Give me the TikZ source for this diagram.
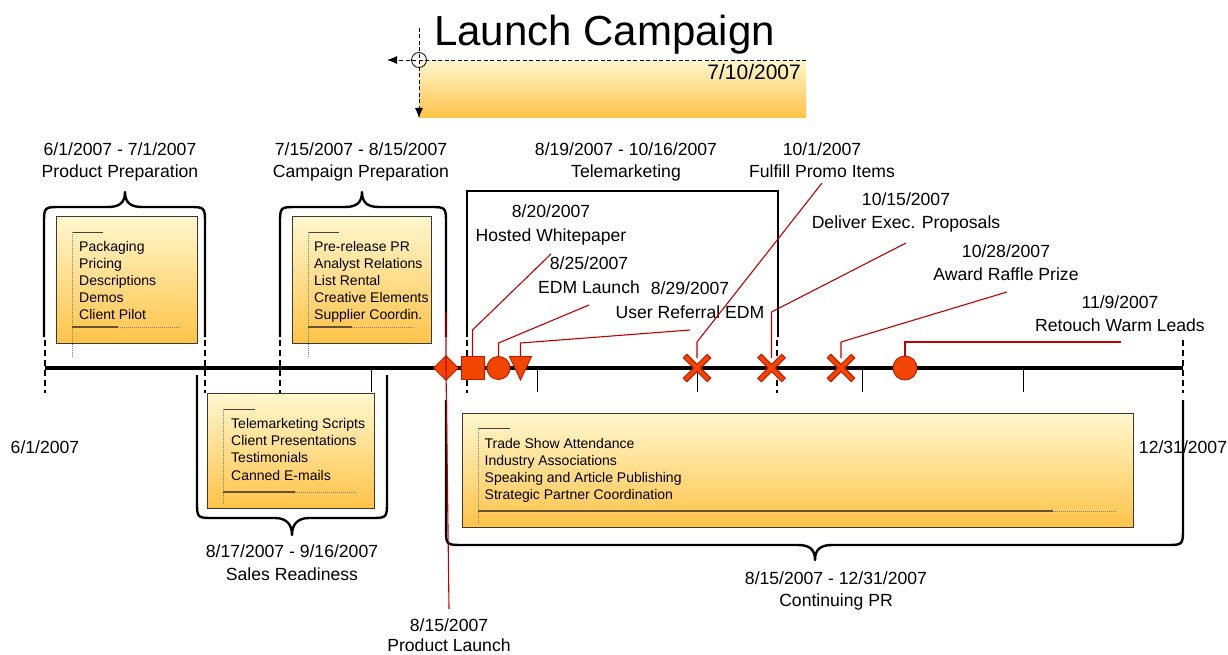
\documentclass[tikz,border=0pt]{standalone}
\usepackage{fontspec}
\setmainfont{Liberation Sans}
\usetikzlibrary{shapes.geometric,shapes.misc,arrows.meta}

\definecolor{mkfill}{RGB}{242,70,0}
\definecolor{mkline}{RGB}{196,24,0}
\definecolor{calloutred}{RGB}{192,0,0}
\definecolor{boxtop}{RGB}{255,247,206}
\definecolor{boxbot}{RGB}{255,195,72}
\definecolor{boxline}{RGB}{60,56,50}
\definecolor{rulebrown}{RGB}{100,82,50}

\begin{document}
\begin{tikzpicture}[x=1pt,y=-1pt,
  bracepath/.style={line width=2.4pt, line join=round},
  phasebox/.style={draw=boxline, line width=0.9pt, top color=boxtop, bottom color=boxbot, inner sep=0, anchor=north west},
  lbl/.style={font=\fontsize{17.6}{21}\selectfont, anchor=base, inner sep=0},
  itemtxt/.style={font=\fontsize{14}{17}\selectfont, anchor=base west, inner sep=0},
  marker/.style={fill=mkfill, draw=mkline, line width=0.9pt, inner sep=0},
  xmarker/.style={cross out, draw=mkfill, line width=3.8pt, line cap=rect, minimum size=16.5pt, inner sep=0,
    preaction={draw=mkline, line width=6pt, line cap=rect}},
  callout/.style={draw=calloutred, line width=1.1pt},
  dtick/.style={line width=1.1pt, dash pattern=on 6pt off 4pt},
  mtick/.style={line width=1pt},
  guide/.style={line width=0.8pt, dash pattern=on 4pt off 2.5pt},
  dotrule/.style={draw=gray, line width=0.6pt, dash pattern=on 0.8pt off 1.2pt},
  toprule/.style={draw=black!75, line width=0.9pt},
  botrule/.style={draw=rulebrown, line width=1.6pt},
  tip/.style={-{Latex[length=10pt,width=8pt]}}
]
\useasboundingbox (0,0) rectangle (1228,655);

% ---------- title block ----------
\node[font=\fontsize{42}{42}\selectfont, anchor=base, inner sep=0] (title) at (604.5,46) {Launch Campaign};
\node[top color=boxtop, bottom color=boxbot, minimum width=387pt, minimum height=57pt, anchor=north west, inner sep=0] (titlebox) at (419,60) {};
\node[anchor=base east, font=\fontsize{21}{21}\selectfont, inner sep=0] (titledate) at (801,80) {7/10/2007};
\coordinate (hstart) at (806,60);
\coordinate (hend) at (387,60);
\coordinate (vstart) at (419,28);
\coordinate (vend) at (419,118);
\draw[guide, tip] (hstart) -- (hend);
\draw[guide, tip] (vstart) -- (vend);
\node[circle, draw, line width=0.8pt, minimum size=15pt, inner sep=0] (origin) at (419,60) {};

% ---------- phase boxes ----------
\node[phasebox, minimum width=141pt, minimum height=127pt] (ppbox) at (56,216) {};
\node[phasebox, minimum width=139pt, minimum height=127pt] (cpbox) at (292,216) {};
\node[phasebox, minimum width=167pt, minimum height=115pt] (srbox) at (207,393) {};
\node[phasebox, minimum width=671pt, minimum height=114pt] (prbox) at (462,413) {};

% list rules inside the boxes
\draw[toprule] (72,232) -- (103,232);
\draw[dotrule] (72,232) -- (72,358);
\draw[botrule] (72,327) -- (118,327);
\draw[dotrule] (118,327) -- (180,327);

\draw[toprule] (308,232) -- (339,232);
\draw[dotrule] (308,232) -- (308,358);
\draw[botrule] (308,327) -- (352,327);
\draw[dotrule] (352,327) -- (414,327);

\draw[toprule] (223,409) -- (255,409);
\draw[dotrule] (223,409) -- (223,505);
\draw[botrule] (223,492) -- (295,492);
\draw[dotrule] (295,492) -- (357,492);

\draw[toprule] (478,428) -- (510,428);
\draw[dotrule] (478,428) -- (478,523);
\draw[botrule] (478,511) -- (1053,511);
\draw[dotrule] (1053,511) -- (1116,511);

% list items
\foreach \t [count=\i] in {Packaging,Pricing,Descriptions,Demos,Client Pilot}
  \node[itemtxt] (pp-item-\i) at (79,235+16.8*\i) {\t};
\foreach \t [count=\i] in {Pre-release PR,Analyst Relations,List Rental,Creative Elements,Supplier Coordin.}
  \node[itemtxt] (cp-item-\i) at (314,235+16.8*\i) {\t};
\foreach \t [count=\i] in {Telemarketing Scripts,Client Presentations,Testimonials,Canned E-mails}
  \node[itemtxt] (sr-item-\i) at (231,411+17.3*\i) {\t};
\foreach \t [count=\i] in {Trade Show Attendance,Industry Associations,Speaking and Article Publishing,Strategic Partner Coordination}
  \node[itemtxt] (pr-item-\i) at (484.5,431+17*\i) {\t};

% ---------- phase labels ----------
\node[lbl] (pp-date) at (120,156) {6/1/2007 - 7/1/2007};
\node[lbl] (pp-name) at (120,178) {Product Preparation};
\node[lbl] (cp-date) at (361,156) {7/15/2007 - 8/15/2007};
\node[lbl] (cp-name) at (361,178) {Campaign Preparation};
\node[lbl] (tm-date) at (626,156) {8/19/2007 - 10/16/2007};
\node[lbl] (tm-name) at (626,178) {Telemarketing};
\node[lbl] (sr-date) at (292,557) {8/17/2007 - 9/16/2007};
\node[lbl] (sr-name) at (292,580) {Sales Readiness};
\node[lbl] (pr-date) at (836,584) {8/15/2007 - 12/31/2007};
\node[lbl] (pr-name) at (836,606) {Continuing PR};
\node[lbl] (start-date) at (45,453) {6/1/2007};
\node[lbl] (end-date) at (1183,453) {12/31/2007};

% ---------- braces ----------
\draw[bracepath] (44,337) -- (44,224) .. controls (44,207) .. (61,207) -- (108,207)
  .. controls (119,207) and (125,203) .. (125,192) .. controls (125,203) and (131,207) .. (142,207)
  -- (188,207) .. controls (205,207) .. (205,224) -- (205,337);
\draw[bracepath] (280,337) -- (280,224) .. controls (280,207) .. (297,207) -- (345,207)
  .. controls (356,207) and (362,203) .. (362,192) .. controls (362,203) and (368,207) .. (379,207)
  -- (429,207) .. controls (446,207) .. (446,224) -- (446,337);
\draw[bracepath, line join=miter] (467,337) -- (467,191) -- (778,191) -- (778,337);
\draw[bracepath] (197,375) -- (197,501) .. controls (197,518) .. (214,518) -- (275,518)
  .. controls (286,518) and (292,524) .. (292,535) .. controls (292,524) and (298,518) .. (309,518)
  -- (370,518) .. controls (387,518) .. (387,501) -- (387,375);
\draw[bracepath] (446,400) -- (446,528) .. controls (446,545) .. (463,545) -- (798,545)
  .. controls (809,545) and (815,549) .. (815,560) .. controls (815,549) and (821,545) .. (832,545)
  -- (1166,545) .. controls (1183,545) .. (1183,528) -- (1183,400);

% ---------- timeline ----------
\foreach \x in {45,205,280,467,777,1183}
  \draw[dtick] (\x,340) -- (\x,393);
\foreach \x in {371,537,697,862,1023}
  \draw[mtick] (\x,368) -- (\x,392);
\coordinate (tl-start) at (45,368);
\coordinate (tl-end) at (1183,368);
\draw[line width=4pt] (tl-start) -- (tl-end);

% ---------- milestones ----------
\node[marker, diamond, minimum size=25pt] (launch) at (446,368) {};
\node[marker, rectangle, minimum size=23pt] (whitepaper) at (472.5,368) {};
\node[marker, circle, minimum size=23pt] (edm) at (498.5,368) {};
\filldraw[marker] (509.5,356.5) -- (531.5,356.5) -- (520.5,380) -- cycle;
\coordinate (referral) at (520.5,356.5);
\node[xmarker] (promo) at (697,368) {};
\node[xmarker] (proposals) at (771.5,368) {};
\node[xmarker] (raffle) at (841,368) {};
\node[marker, circle, minimum size=24pt] (retouch) at (905,368) {};

% milestone labels
\node[lbl] (wp-date) at (551,218) {8/20/2007};
\node[lbl] (wp-name) at (551,241) {Hosted Whitepaper};
\node[lbl] (edm-date) at (589,269) {8/25/2007};
\node[lbl] (edm-name) at (589,293) {EDM Launch};
\node[lbl] (ref-date) at (690,294) {8/29/2007};
\node[lbl] (ref-name) at (690,318) {User Referral EDM};
\node[lbl] (promo-date) at (822,156) {10/1/2007};
\node[lbl] (promo-name) at (822,178) {Fulfill Promo Items};
\node[lbl] (prop-date) at (906,206) {10/15/2007};
\node[lbl] (prop-name) at (906,229) {Deliver Exec. Proposals};
\node[lbl] (raffle-date) at (1006,257) {10/28/2007};
\node[lbl] (raffle-name) at (1006,280) {Award Raffle Prize};
\node[lbl] (ret-date) at (1120,308) {11/9/2007};
\node[lbl] (ret-name) at (1120,331) {Retouch Warm Leads};
\node[lbl] (pl-date) at (449,631) {8/15/2007};
\node[lbl] (pl-name) at (449,651.5) {Product Launch};

% callout leaders
\coordinate (wp-bend) at (472.5,330);   \coordinate (wp-end) at (551,254);
\coordinate (edm-bend) at (498.5,343);  \coordinate (edm-end) at (589,305);
\coordinate (ref-bend) at (520.5,343);  \coordinate (ref-end) at (690,330);
\coordinate (promo-bend) at (697,342);  \coordinate (promo-end) at (822,183);
\coordinate (prop-bend) at (771.5,312); \coordinate (prop-end) at (906,243);
\coordinate (raffle-bend) at (841,342); \coordinate (raffle-end) at (1007,292);
\coordinate (ret-bend) at (905,342);    \coordinate (ret-end) at (1121,342);
\coordinate (pl-top) at (446,312);      \coordinate (pl-end) at (449,609);

\draw[callout] (whitepaper.north) -- (wp-bend) -- (wp-end);
\draw[callout] (edm.north) -- (edm-bend) -- (edm-end);
\draw[callout] (referral) -- (ref-bend) -- (ref-end);
\draw[callout] (promo.north) -- (promo-bend) -- (promo-end);
\draw[callout] (proposals.north) -- (prop-bend) -- (prop-end);
\draw[callout] (raffle.north) -- (raffle-bend) -- (raffle-end);
\draw[callout] (retouch.north) -- (ret-bend) -- (ret-end);
\draw[callout] (pl-top) -- (launch.center) -- (pl-end);
\end{tikzpicture}
\end{document}
